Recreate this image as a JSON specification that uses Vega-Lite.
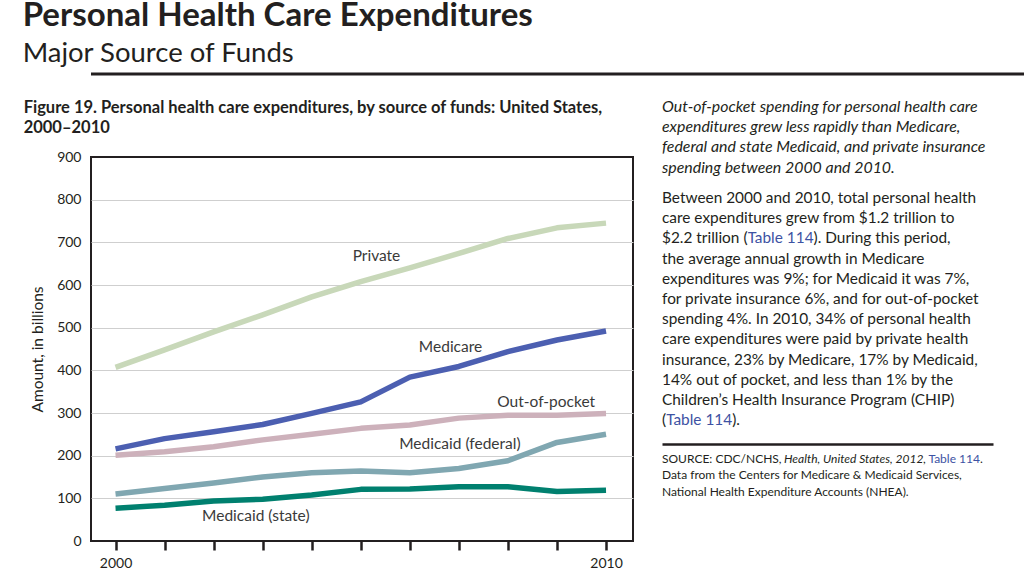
{
  "$schema": "https://vega.github.io/schema/vega-lite/v6.json",
  "padding": {"left": 22, "top": 0, "right": 4, "bottom": 0},
  "background": "white",
  "config": {
    "font": "Lato",
    "view": {"stroke": null},
    "text": {"font": "Lato"},
    "axis": {"labelFont": "Lato", "titleFont": "Lato"},
    "title": {"font": "Lato"}
  },
  "title": {
    "text": "Personal Health Care Expenditures",
    "subtitle": "Major Source of Funds",
    "anchor": "start",
    "font": "Lato",
    "fontSize": 33,
    "fontWeight": "bold",
    "color": "#231f20",
    "subtitleFont": "Lato",
    "subtitleFontSize": 27.5,
    "subtitleColor": "#231f20",
    "subtitlePadding": 7,
    "offset": 5
  },
  "datasets": {
    "expend": [
      {"source": "Private", "year": 2000, "amount": 407},
      {"source": "Private", "year": 2001, "amount": 448},
      {"source": "Private", "year": 2002, "amount": 490},
      {"source": "Private", "year": 2003, "amount": 530},
      {"source": "Private", "year": 2004, "amount": 572},
      {"source": "Private", "year": 2005, "amount": 608},
      {"source": "Private", "year": 2006, "amount": 640},
      {"source": "Private", "year": 2007, "amount": 674},
      {"source": "Private", "year": 2008, "amount": 709},
      {"source": "Private", "year": 2009, "amount": 734},
      {"source": "Private", "year": 2010, "amount": 745},
      {"source": "Medicare", "year": 2000, "amount": 216},
      {"source": "Medicare", "year": 2001, "amount": 240},
      {"source": "Medicare", "year": 2002, "amount": 256},
      {"source": "Medicare", "year": 2003, "amount": 273},
      {"source": "Medicare", "year": 2004, "amount": 299},
      {"source": "Medicare", "year": 2005, "amount": 326},
      {"source": "Medicare", "year": 2006, "amount": 384},
      {"source": "Medicare", "year": 2007, "amount": 409},
      {"source": "Medicare", "year": 2008, "amount": 444},
      {"source": "Medicare", "year": 2009, "amount": 471},
      {"source": "Medicare", "year": 2010, "amount": 492},
      {"source": "Out-of-pocket", "year": 2000, "amount": 201},
      {"source": "Out-of-pocket", "year": 2001, "amount": 209},
      {"source": "Out-of-pocket", "year": 2002, "amount": 221},
      {"source": "Out-of-pocket", "year": 2003, "amount": 237},
      {"source": "Out-of-pocket", "year": 2004, "amount": 250},
      {"source": "Out-of-pocket", "year": 2005, "amount": 264},
      {"source": "Out-of-pocket", "year": 2006, "amount": 272},
      {"source": "Out-of-pocket", "year": 2007, "amount": 288},
      {"source": "Out-of-pocket", "year": 2008, "amount": 295},
      {"source": "Out-of-pocket", "year": 2009, "amount": 295},
      {"source": "Out-of-pocket", "year": 2010, "amount": 299},
      {"source": "Medicaid (federal)", "year": 2000, "amount": 110},
      {"source": "Medicaid (federal)", "year": 2001, "amount": 123},
      {"source": "Medicaid (federal)", "year": 2002, "amount": 136},
      {"source": "Medicaid (federal)", "year": 2003, "amount": 150},
      {"source": "Medicaid (federal)", "year": 2004, "amount": 160},
      {"source": "Medicaid (federal)", "year": 2005, "amount": 164},
      {"source": "Medicaid (federal)", "year": 2006, "amount": 160},
      {"source": "Medicaid (federal)", "year": 2007, "amount": 170},
      {"source": "Medicaid (federal)", "year": 2008, "amount": 188},
      {"source": "Medicaid (federal)", "year": 2009, "amount": 231},
      {"source": "Medicaid (federal)", "year": 2010, "amount": 250},
      {"source": "Medicaid (state)", "year": 2000, "amount": 77},
      {"source": "Medicaid (state)", "year": 2001, "amount": 84},
      {"source": "Medicaid (state)", "year": 2002, "amount": 94},
      {"source": "Medicaid (state)", "year": 2003, "amount": 98},
      {"source": "Medicaid (state)", "year": 2004, "amount": 108},
      {"source": "Medicaid (state)", "year": 2005, "amount": 121},
      {"source": "Medicaid (state)", "year": 2006, "amount": 122},
      {"source": "Medicaid (state)", "year": 2007, "amount": 127},
      {"source": "Medicaid (state)", "year": 2008, "amount": 127},
      {"source": "Medicaid (state)", "year": 2009, "amount": 116},
      {"source": "Medicaid (state)", "year": 2010, "amount": 119}
    ],
    "labels": [
      {"label": "Private", "year": 2005.32, "amount": 668},
      {"label": "Medicare", "year": 2006.83, "amount": 454},
      {"label": "Out-of-pocket", "year": 2008.78, "amount": 326},
      {"label": "Medicaid (federal)", "year": 2007.02, "amount": 227},
      {"label": "Medicaid (state)", "year": 2002.86, "amount": 58}
    ],
    "body": [
      {"line": 0, "text": "Between 2000 and 2010, total personal health"},
      {"line": 1, "text": "care expenditures grew from $1.2 trillion to"},
      {"line": 2, "text": "$2.2 trillion (Table 114). During this period,"},
      {"line": 3, "text": "the average annual growth in Medicare"},
      {"line": 4, "text": "expenditures was 9%; for Medicaid it was 7%,"},
      {"line": 5, "text": "for private insurance 6%, and for out-of-pocket"},
      {"line": 6, "text": "spending 4%. In 2010, 34% of personal health"},
      {"line": 7, "text": "care expenditures were paid by private health"},
      {"line": 8, "text": "insurance, 23% by Medicare, 17% by Medicaid,"},
      {"line": 9, "text": "14% out of pocket, and less than 1% by the"},
      {"line": 10, "text": "Children’s Health Insurance Program (CHIP)"},
      {"line": 11, "text": "(Table 114)."}
    ],
    "bodyBlue": [
      {"line": 2, "text": "$2.2 trillion (Table 114"},
      {"line": 11, "text": "(Table 114"}
    ],
    "bodyBlack": [
      {"line": 2, "text": "$2.2 trillion ("},
      {"line": 11, "text": "("}
    ],
    "source": [
      {"line": 0, "text": "SOURCE: CDC/NCHS,"},
      {"line": 1, "text": "Data from the Centers for Medicare & Medicaid Services,"},
      {"line": 2, "text": "National Health Expenditure Accounts (NHEA)."}
    ],
    "sourceItalic": [
      {"line": 0, "text": "Health, United States, 2012"}
    ],
    "sourceTail": [
      {"line": 0, "text": ", Table 114."}
    ],
    "sourceTailBlue": [
      {"line": 0, "text": ", Table 114"}
    ],
    "sourceTailBlack": [
      {"line": 0, "text": ","}
    ]
  },
  "spacing": 22,
  "vconcat": [
    {
      "width": 998,
      "height": 1,
      "data": {"values": [{}]},
      "mark": {"type": "rule", "strokeWidth": 3, "color": "#231f20"},
      "encoding": {
        "x": {"datum": 0, "type": "quantitative", "scale": {"domain": [0, 1]}, "axis": null},
        "x2": {"datum": 1},
        "y": {"datum": 0, "type": "quantitative", "scale": {"domain": [0, 1]}, "axis": null}
      }
    },
    {
      "spacing": 28,
      "hconcat": [
        {
          "width": 542,
          "height": 384,
          "title": {
            "text": ["Figure 19. Personal health care expenditures, by source of funds: United States,", "2000–2010"],
            "anchor": "start",
            "font": "Lato",
            "fontSize": 16.5,
            "fontWeight": "bold",
            "lineHeight": 20,
            "offset": 14,
            "dx": -7,
            "color": "#231f20"
          },
          "view": {"stroke": "#231f20", "strokeWidth": 2},
          "layer": [
            {
              "data": {"name": "expend"},
              "mark": {"type": "line", "strokeWidth": 5.5, "strokeCap": "butt", "strokeJoin": "round"},
              "encoding": {
                "x": {
                  "field": "year",
                  "type": "quantitative",
                  "scale": {"domain": [1999.5, 2010.55], "nice": false, "zero": false},
                  "axis": {
                    "values": [2000, 2001, 2002, 2003, 2004, 2005, 2006, 2007, 2008, 2009, 2010],
                    "format": "d",
                    "labelExpr": "datum.value == 2000 || datum.value == 2010 ? datum.label : ''",
                    "title": null,
                    "domain": false,
                    "grid": false,
                    "ticks": true,
                    "tickSize": 9,
                    "tickWidth": 2.5,
                    "tickColor": "#231f20",
                    "labelFontSize": 14,
                    "labelColor": "#231f20",
                    "labelPadding": 6,
                    "labelFlush": false
                  }
                },
                "y": {
                  "field": "amount",
                  "type": "quantitative",
                  "scale": {"domain": [0, 900], "nice": false},
                  "axis": {
                    "values": [0, 100, 200, 300, 400, 500, 600, 700, 800, 900],
                    "title": "Amount, in billions",
                    "titleFontSize": 15.5,
                    "titleFontWeight": "normal",
                    "titleColor": "#231f20",
                    "titlePadding": 11,
                    "domain": false,
                    "ticks": false,
                    "labelPadding": 10,
                    "labelFontSize": 14,
                    "labelColor": "#231f20",
                    "grid": true,
                    "gridColor": "#cfcfcf",
                    "gridWidth": 1,
                    "gridOpacity": {"condition": {"test": "datum.value == 0 || datum.value == 900", "value": 0}, "value": 1}
                  }
                },
                "color": {
                  "field": "source",
                  "type": "nominal",
                  "scale": {
                    "domain": ["Private", "Medicare", "Out-of-pocket", "Medicaid (federal)", "Medicaid (state)"],
                    "range": ["#c8d8b9", "#4c5fb1", "#cdb1bb", "#80a7b1", "#00806f"]
                  },
                  "legend": null
                }
              }
            },
            {
              "data": {"name": "labels"},
              "mark": {"type": "text", "fontSize": 15.5, "color": "#3a3a3a", "baseline": "middle", "align": "center"},
              "encoding": {
                "x": {"field": "year", "type": "quantitative"},
                "y": {"field": "amount", "type": "quantitative"},
                "text": {"field": "label"}
              }
            }
          ]
        },
        {
          "spacing": 12,
          "vconcat": [
            {
              "width": 340,
              "height": 275,
              "title": {
                "text": [
                  "Out-of-pocket spending for personal health care",
                  "expenditures grew less rapidly than Medicare,",
                  "federal and state Medicaid, and private insurance",
                  "spending between 2000 and 2010."
                ],
                "anchor": "start",
                "font": "Lato",
                "fontSize": 15.9,
                "fontStyle": "italic",
                "fontWeight": "normal",
                "lineHeight": 20.2,
                "offset": -18.5,
                "color": "#231f20"
              },
              "encoding": {
                "x": {"datum": 0, "type": "quantitative", "scale": {"domain": [0, 1]}, "axis": null},
                "y": {"field": "line", "type": "quantitative", "scale": {"domain": [-2.03, 11.58], "reverse": true, "nice": false, "zero": false}, "axis": null},
                "text": {"field": "text"}
              },
              "layer": [
                {"data": {"name": "body"}, "mark": {"type": "text", "align": "left", "baseline": "middle", "fontSize": 15.4, "fill": "#231f20"}},
                {"data": {"name": "bodyBlue"}, "mark": {"type": "text", "align": "left", "baseline": "middle", "fontSize": 15.4, "fill": "white", "stroke": "white", "strokeWidth": 2}},
                {"data": {"name": "bodyBlue"}, "mark": {"type": "text", "align": "left", "baseline": "middle", "fontSize": 15.4, "fill": "#3d52a3"}},
                {"data": {"name": "bodyBlack"}, "mark": {"type": "text", "align": "left", "baseline": "middle", "fontSize": 15.4, "fill": "white", "stroke": "white", "strokeWidth": 2}},
                {"data": {"name": "bodyBlack"}, "mark": {"type": "text", "align": "left", "baseline": "middle", "fontSize": 15.4, "fill": "#231f20"}}
              ]
            },
            {
              "width": 331,
              "height": {"step": 16.7},
              "encoding": {
                "x": {
                  "datum": 0,
                  "type": "quantitative",
                  "scale": {"domain": [0, 1]},
                  "axis": {"orient": "top", "domain": true, "domainWidth": 2.5, "domainColor": "#231f20", "ticks": false, "labels": false, "grid": false, "title": null}
                },
                "y": {"field": "line", "type": "ordinal", "scale": {"type": "point", "padding": 0.88}, "axis": null},
                "text": {"field": "text"}
              },
              "layer": [
                {"data": {"name": "source"}, "mark": {"type": "text", "align": "left", "baseline": "middle", "fontSize": 12, "fill": "#231f20"}},
                {"data": {"name": "sourceItalic"}, "mark": {"type": "text", "align": "left", "baseline": "middle", "fontSize": 12, "fontStyle": "italic", "dx": 122, "fill": "#231f20"}},
                {"data": {"name": "sourceTail"}, "mark": {"type": "text", "align": "left", "baseline": "middle", "fontSize": 12, "dx": 261, "fill": "#231f20"}},
                {"data": {"name": "sourceTailBlue"}, "mark": {"type": "text", "align": "left", "baseline": "middle", "fontSize": 12, "dx": 261, "fill": "white", "stroke": "white", "strokeWidth": 2}},
                {"data": {"name": "sourceTailBlue"}, "mark": {"type": "text", "align": "left", "baseline": "middle", "fontSize": 12, "dx": 261, "fill": "#3d52a3"}},
                {"data": {"name": "sourceTailBlack"}, "mark": {"type": "text", "align": "left", "baseline": "middle", "fontSize": 12, "dx": 261, "fill": "white", "stroke": "white", "strokeWidth": 2}},
                {"data": {"name": "sourceTailBlack"}, "mark": {"type": "text", "align": "left", "baseline": "middle", "fontSize": 12, "dx": 261, "fill": "#231f20"}}
              ]
            }
          ]
        }
      ]
    }
  ]
}
